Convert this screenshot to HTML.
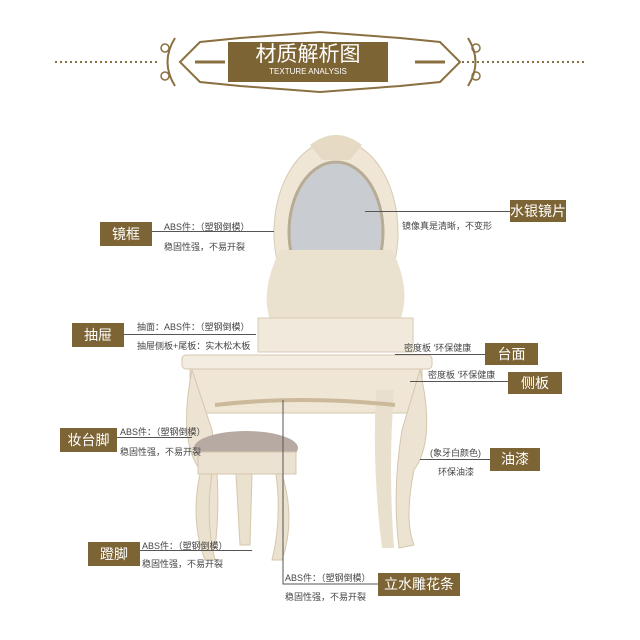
<!DOCTYPE html>
<html><head><meta charset="utf-8"><style>
body{margin:0;background:#fff;}
.w{position:relative;width:640px;height:640px;overflow:hidden;font-family:"Liberation Sans","Noto Sans CJK SC",sans-serif;}
.lb{position:absolute;background:#7d6434;color:#fff;font-size:14px;text-align:center;line-height:24px;}
.t{position:absolute;font-size:9px;color:#444;white-space:nowrap;}
.ln{position:absolute;background:#555;height:1px;}
</style></head><body><div class="w">
<svg width="640" height="640" style="position:absolute;left:0;top:0">
<!-- header -->
<line x1="55" y1="62" x2="160" y2="62" stroke="#8a7040" stroke-width="2" stroke-dasharray="2 3"/>
<line x1="462" y1="62" x2="585" y2="62" stroke="#8a7040" stroke-width="2" stroke-dasharray="2 3"/>
<path d="M175 38 Q160 62 175 86 M468 38 Q483 62 468 86" stroke="#8a7040" fill="none" stroke-width="2"/>
<circle cx="165" cy="48" r="4" stroke="#8a7040" fill="none" stroke-width="1.5"/><circle cx="165" cy="76" r="4" stroke="#8a7040" fill="none" stroke-width="1.5"/>
<circle cx="476" cy="48" r="4" stroke="#8a7040" fill="none" stroke-width="1.5"/><circle cx="476" cy="76" r="4" stroke="#8a7040" fill="none" stroke-width="1.5"/>
<path d="M180 62 L200 42 L240 38 L320 32 L400 38 L440 42 L460 62 L440 82 L400 86 L320 92 L240 86 L200 82 Z" fill="#fff" stroke="#8a7040" stroke-width="2"/>
<rect x="228" y="42" width="160" height="40" fill="#7d6434"/>
<path d="M195 62 h30 M415 62 h30" stroke="#8a7040" stroke-width="3"/>
<!-- mirror -->
<ellipse cx="336" cy="232" rx="62" ry="92" fill="#efe6d6" stroke="#d8cbb2"/>
<ellipse cx="336" cy="232" rx="47" ry="70" fill="#c9ccd0" stroke="#b8ac94" stroke-width="3"/>
<path d="M280 250 Q260 290 270 320 L400 320 Q412 290 392 250 Z" fill="#ebe1cf"/>
<path d="M310 145 Q336 125 362 145 L350 160 L322 160 Z" fill="#e6dac4"/>
<rect x="258" y="318" width="155" height="34" fill="#f1e9dc" stroke="#d8cbb2"/>
<!-- table -->
<rect x="182" y="355" width="250" height="14" rx="4" fill="#f3ece0" stroke="#d5c7ae"/>
<rect x="190" y="369" width="232" height="44" fill="#efe6d6" stroke="#d5c7ae"/>
<path d="M192 370 Q178 440 200 470 Q210 520 200 545 L215 548 Q222 490 212 430 Z" fill="#ede3d2" stroke="#d5c7ae"/>
<path d="M420 370 Q436 440 414 470 Q404 520 414 545 L399 548 Q392 490 402 430 Z" fill="#ede3d2" stroke="#d5c7ae"/>
<path d="M376 390 Q372 470 382 548 L394 548 Q388 470 394 390 Z" fill="#e9dfcd"/>
<path d="M215 405 Q300 395 395 405" stroke="#cbb99a" fill="none" stroke-width="4"/>
<!-- stool -->
<ellipse cx="246" cy="448" rx="52" ry="17" fill="#b7aaa2"/>
<rect x="198" y="452" width="98" height="22" fill="#ece2d1" stroke="#d5c7ae"/>
<path d="M200 474 Q190 520 205 560 L215 560 Q205 520 212 474 Z M282 474 Q296 520 282 560 L272 560 Q282 520 276 474 Z M236 474 L240 545 L250 545 L252 474 Z" fill="#ebe1cf" stroke="#d5c7ae"/>
<!-- vertical connector -->
<path d="M283 400 V584 H378" stroke="#555" fill="none"/>
</svg>
<div style="position:absolute;left:228px;top:42px;width:160px;text-align:center;color:#fff;font-size:21px;line-height:26px">材质解析图</div>
<div style="position:absolute;left:228px;top:67px;width:160px;text-align:center;color:#fff;font-size:8px">TEXTURE ANALYSIS</div>

<div class="lb" style="left:100px;top:222px;width:52px">镜框</div>
<div class="ln" style="left:152px;top:231px;width:122px"></div>
<div class="t" style="left:164px;top:220px">ABS件：（塑钢倒模）</div>
<div class="t" style="left:164px;top:240px">稳固性强，不易开裂</div>

<div class="lb" style="left:510px;top:200px;width:56px;height:22px;line-height:22px">水银镜片</div>
<div class="ln" style="left:365px;top:211px;width:145px"></div>
<div class="t" style="left:402px;top:219px">镜像真是清晰，不变形</div>

<div class="lb" style="left:72px;top:323px;width:52px">抽屉</div>
<div class="ln" style="left:124px;top:334px;width:132px"></div>
<div class="t" style="left:137px;top:320px">抽面：ABS件：（塑钢倒模）</div>
<div class="t" style="left:137px;top:339px">抽屉侧板+尾板：实木松木板</div>

<div class="lb" style="left:485px;top:343px;width:53px;height:22px;line-height:22px">台面</div>
<div class="ln" style="left:395px;top:354px;width:90px"></div>
<div class="t" style="left:404px;top:341px">密度板 '环保健康</div>

<div class="lb" style="left:508px;top:372px;width:54px;height:22px;line-height:22px">侧板</div>
<div class="ln" style="left:410px;top:381px;width:98px"></div>
<div class="t" style="left:428px;top:368px">密度板 '环保健康</div>

<div class="lb" style="left:60px;top:428px;width:57px">妆台脚</div>
<div class="ln" style="left:117px;top:437px;width:75px"></div>
<div class="t" style="left:120px;top:425px">ABS件：（塑钢倒模）</div>
<div class="t" style="left:120px;top:445px">稳固性强，不易开裂</div>

<div class="lb" style="left:490px;top:448px;width:50px;height:23px;line-height:23px">油漆</div>
<div class="ln" style="left:420px;top:459px;width:70px"></div>
<div class="t" style="left:430px;top:446px">(象牙白颜色)</div>
<div class="t" style="left:438px;top:465px">环保油漆</div>

<div class="lb" style="left:88px;top:542px;width:52px">蹬脚</div>
<div class="ln" style="left:140px;top:550px;width:112px"></div>
<div class="t" style="left:142px;top:539px">ABS件：（塑钢倒模）</div>
<div class="t" style="left:142px;top:557px">稳固性强，不易开裂</div>

<div class="lb" style="left:378px;top:573px;width:82px;height:23px;line-height:23px">立水雕花条</div>
<div class="t" style="left:285px;top:571px">ABS件：（塑钢倒模）</div>
<div class="t" style="left:285px;top:590px">稳固性强，不易开裂</div>
</div></body></html>
